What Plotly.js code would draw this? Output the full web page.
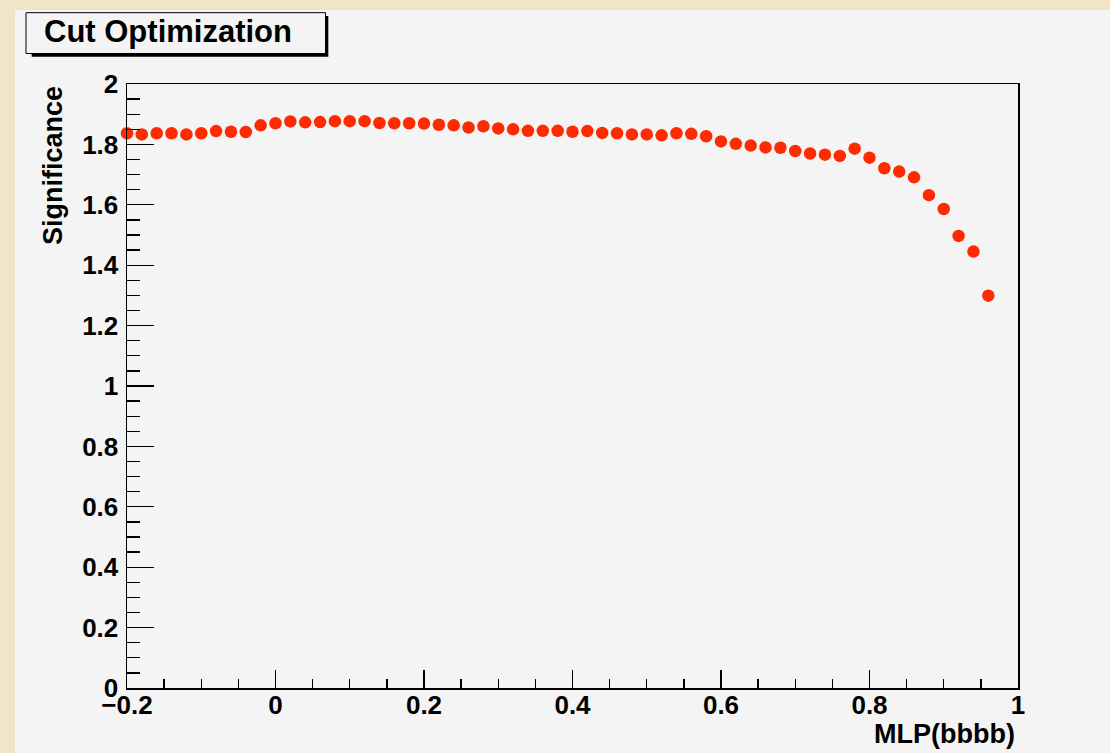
<!DOCTYPE html>
<html>
<head>
<meta charset="utf-8">
<script src="https://cdn.plot.ly/plotly-3.0.1.min.js"></script>
<style>
  html, body { margin: 0; padding: 0; background: #f1e4c7; width: 1110px; height: 753px; overflow: hidden; }
  #chart { position: absolute; left: 15px; top: 10px; width: 1095px; height: 743px; }
</style>
</head>
<body>
<div id="chart"></div>
<script>
// ---- data ----
const chartTitle = "Cut Optimization";
const xTitle = "MLP(bbbb)";
const yTitle = "Significance";
const mlpCut = [-0.20, -0.18, -0.16, -0.14, -0.12, -0.10, -0.08, -0.06, -0.04, -0.02,
                 0.00,  0.02,  0.04,  0.06,  0.08,  0.10,  0.12,  0.14,  0.16,  0.18,
                 0.20,  0.22,  0.24,  0.26,  0.28,  0.30,  0.32,  0.34,  0.36,  0.38,
                 0.40,  0.42,  0.44,  0.46,  0.48,  0.50,  0.52,  0.54,  0.56,  0.58,
                 0.60,  0.62,  0.64,  0.66,  0.68,  0.70,  0.72,  0.74,  0.76,  0.78,
                 0.80,  0.82,  0.84,  0.86,  0.88,  0.90,  0.92,  0.94,  0.96];
const significance = [1.837, 1.833, 1.837, 1.837, 1.833, 1.837, 1.844, 1.842, 1.841, 1.863,
                      1.870, 1.876, 1.873, 1.874, 1.877, 1.877, 1.877, 1.871, 1.870, 1.870,
                      1.869, 1.865, 1.863, 1.856, 1.860, 1.853, 1.850, 1.845, 1.845, 1.845,
                      1.842, 1.844, 1.838, 1.837, 1.833, 1.833, 1.830, 1.837, 1.835, 1.827,
                      1.810, 1.802, 1.796, 1.790, 1.789, 1.778, 1.770, 1.766, 1.762, 1.786,
                      1.756, 1.721, 1.710, 1.691, 1.632, 1.586, 1.497, 1.445, 1.299];

// ---- layout geometry (div pixels) ----
const FW = 1095, FH = 743;
const M = { l: 112, r: 92, t: 74, b: 65 };
const W = FW - M.l - M.r, H = FH - M.t - M.b;
const X = px => (px - M.l) / W;
const Y = py => 1 - (py - M.t) / H;

const FONT = "Liberation Sans, Arial, Helvetica, sans-serif";
const axisCommon = {
  showgrid: false, zeroline: false,
  showline: true, linecolor: "#000", linewidth: 1.5, mirror: true,
  ticks: "inside", tickcolor: "#000", tickwidth: 1.3,
  tickfont: { family: FONT, size: 26, color: "#000", weight: "bold" },
  fixedrange: true
};

const trace = {
  x: mlpCut, y: significance,
  type: "scatter", mode: "markers",
  marker: { color: "#ff2a00", size: 12.5, line: { width: 0 } },
  cliponaxis: false, hoverinfo: "skip"
};

const layout = {
  width: FW, height: FH,
  margin: M,
  paper_bgcolor: "#f4f4f4", plot_bgcolor: "#f4f4f4",
  showlegend: false,
  xaxis: Object.assign({}, axisCommon, {
    range: [-0.2, 1], tick0: -0.2, dtick: 0.2, ticklen: 18,
    ticklabelstandoff: -7,
    minor: { ticks: "inside", dtick: 0.05, tick0: -0.2, ticklen: 9, tickwidth: 1.3, tickcolor: "#000", showgrid: false }
  }),
  yaxis: Object.assign({}, axisCommon, {
    range: [0, 2], tick0: 0, dtick: 0.2, ticklen: 27,
    ticklabelstandoff: 2,
    minor: { ticks: "inside", dtick: 0.05, tick0: 0, ticklen: 13, tickwidth: 1.3, tickcolor: "#000", showgrid: false }
  }),
  shapes: [
    // title box shadow
    { type: "rect", xref: "paper", yref: "paper", layer: "above",
      x0: X(16.7), x1: X(313.3), y0: Y(6), y1: Y(46.7),
      fillcolor: "#000", line: { width: 0 } },
    // title box
    { type: "rect", xref: "paper", yref: "paper", layer: "above",
      x0: X(11), x1: X(310.5), y0: Y(2.7), y1: Y(43.5),
      fillcolor: "#f4f4f4", line: { color: "#000", width: 1 } }
  ],
  annotations: [
    { text: chartTitle, xref: "paper", yref: "paper", x: X(27), y: Y(21.5),
      xanchor: "left", yanchor: "middle", showarrow: false,
      font: { family: FONT, size: 31, color: "#000", weight: "bold" } },
    { text: xTitle, xref: "paper", yref: "paper", x: X(1002), y: Y(724),
      xanchor: "right", yanchor: "middle", showarrow: false,
      font: { family: FONT, size: 27, color: "#000", weight: "bold" } },
    { text: yTitle, xref: "paper", yref: "paper", x: X(38), y: Y(156),
      xanchor: "center", yanchor: "middle", textangle: -90, showarrow: false,
      font: { family: FONT, size: 27, color: "#000", weight: "bold" } }
  ]
};

Plotly.newPlot("chart", [trace], layout, { staticPlot: true, displayModeBar: false });
</script>
</body>
</html>
